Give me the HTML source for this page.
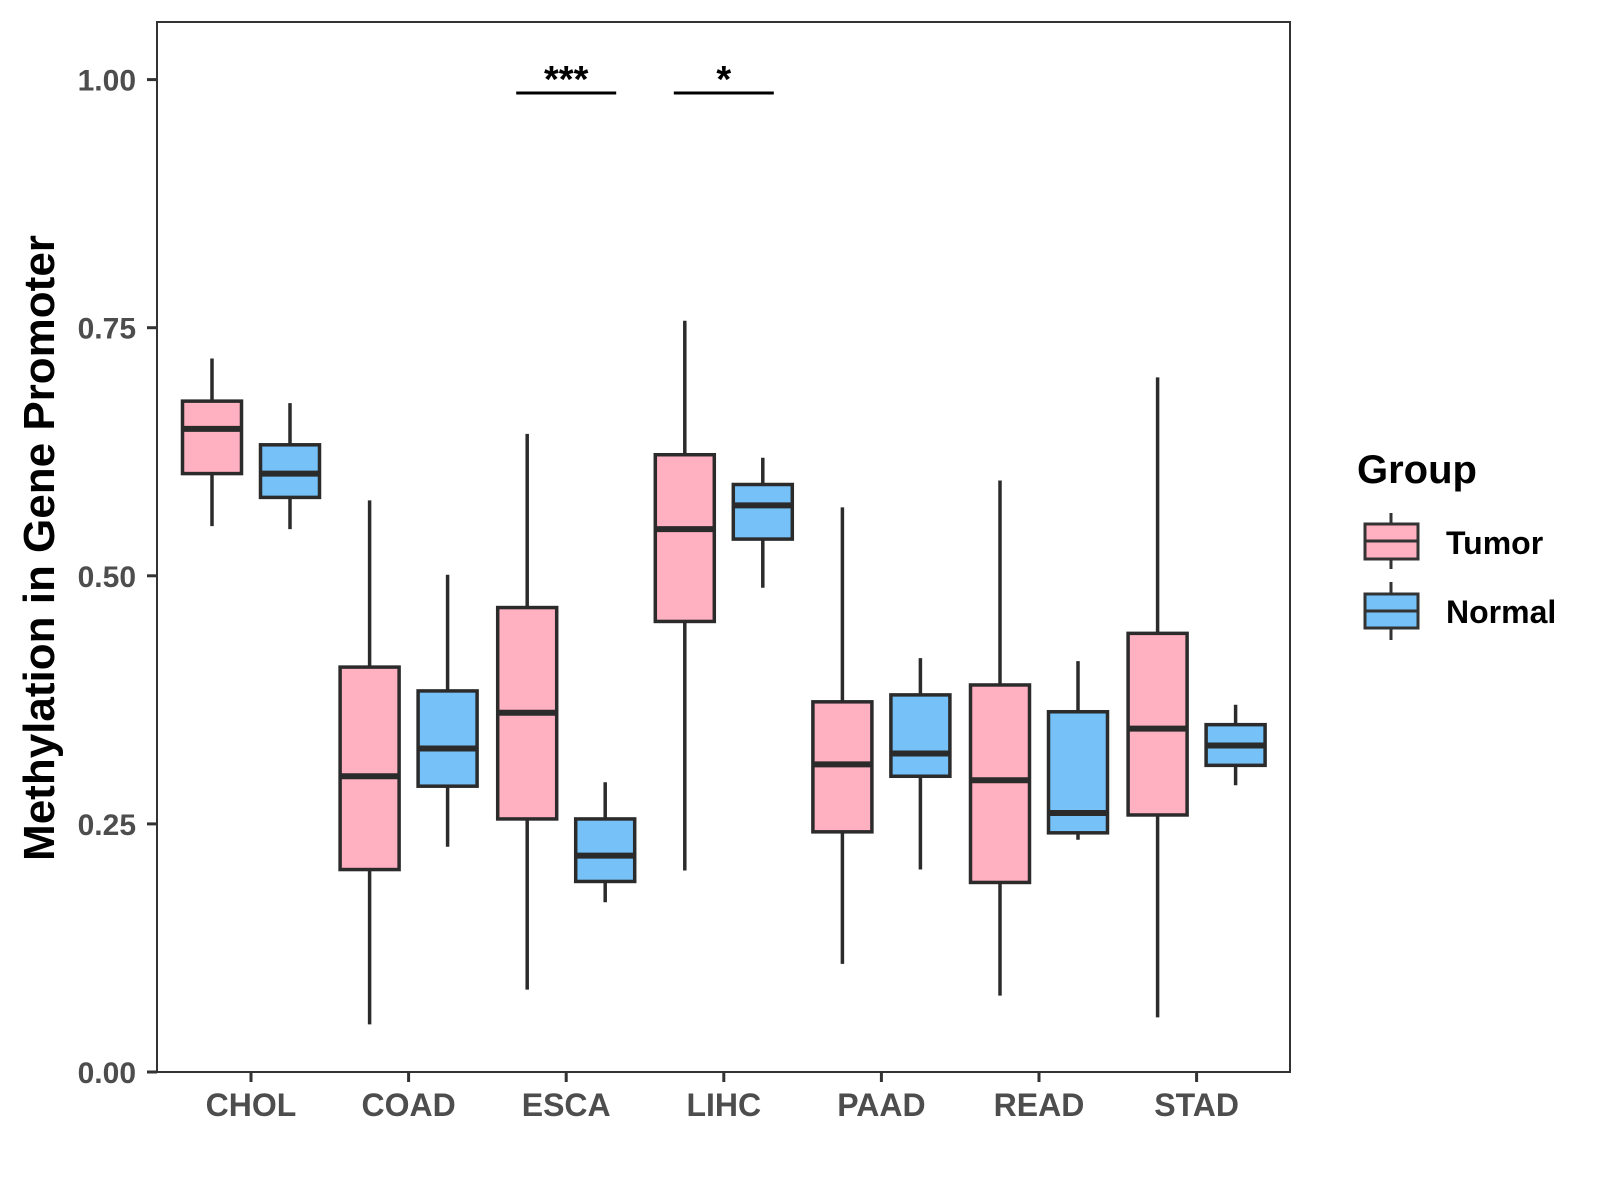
<!DOCTYPE html>
<html><head><meta charset="utf-8"><style>
html,body{margin:0;padding:0;background:#fff;}
svg{display:block;font-family:"Liberation Sans",Arial,sans-serif;}
</style></head><body>
<svg id="chart" width="1600" height="1200" viewBox="0 0 1600 1200" xmlns="http://www.w3.org/2000/svg">
<rect x="157" y="22" width="1133" height="1050" fill="#fff" stroke="#333" stroke-width="2"/>
<g id="marks"></g>
<text transform="translate(54,548) rotate(-90)" text-anchor="middle" font-size="44" font-weight="bold" fill="#000">Methylation in Gene Promoter</text>
<g>
<text x="1357" y="483" font-size="40" font-weight="bold" fill="#000">Group</text>
<g>
<line x1="1391" y1="513" x2="1391" y2="569" stroke="#333" stroke-width="3"/>
<rect x="1365" y="524" width="53" height="35" fill="#FFB0C1" stroke="#333" stroke-width="3"/>
<line x1="1365" y1="541" x2="1418" y2="541" stroke="#333" stroke-width="3"/>
<text x="1446" y="554" font-size="32" font-weight="bold" fill="#000">Tumor</text>
</g>
<g>
<line x1="1391" y1="582" x2="1391" y2="640" stroke="#333" stroke-width="3"/>
<rect x="1365" y="594" width="53" height="34" fill="#75C1F8" stroke="#333" stroke-width="3"/>
<line x1="1365" y1="611" x2="1418" y2="611" stroke="#333" stroke-width="3"/>
<text x="1446" y="623" font-size="32" font-weight="bold" fill="#000">Normal</text>
</g>
</g>
</svg>
<script>
const categories = ["CHOL","COAD","ESCA","LIHC","PAAD","READ","STAD"];
const tumorLow =   [0.550,0.048,0.083,0.203,0.109,0.077,0.055];
const tumorQ1 =    [0.603,0.204,0.255,0.454,0.242,0.191,0.259];
const tumorMed =   [0.648,0.298,0.362,0.547,0.310,0.294,0.346];
const tumorQ3 =    [0.676,0.408,0.468,0.622,0.373,0.390,0.442];
const tumorHigh =  [0.719,0.576,0.643,0.757,0.569,0.596,0.700];
const normalLow =  [0.547,0.227,0.171,0.488,0.204,0.234,0.289];
const normalQ1 =   [0.579,0.288,0.192,0.537,0.298,0.241,0.309];
const normalMed =  [0.603,0.326,0.218,0.571,0.321,0.261,0.329];
const normalQ3 =   [0.632,0.384,0.255,0.592,0.380,0.363,0.350];
const normalHigh = [0.674,0.501,0.292,0.619,0.417,0.414,0.370];
const yTicks = [0, 0.25, 0.5, 0.75, 1.0];
const yTickLabels = ["0.00","0.25","0.50","0.75","1.00"];
const sigCategories = ["ESCA","LIHC"];
const sigLabels = ["***","*"];

const NS="http://www.w3.org/2000/svg";
const g=document.getElementById('marks');
const y=v=>1072-(1072-79.6)*v;
const x=i=>251+i*157.6;
function mk(tag,attrs,parent){const e=document.createElementNS(NS,tag);for(const k in attrs)e.setAttribute(k,attrs[k]);(parent||g).appendChild(e);return e;}
yTicks.forEach((t,i)=>{
  const tk=mk('line',{x1:147,x2:157,y1:y(t),y2:y(t),stroke:'#333','stroke-width':3});
  
  
  const lb=mk('text',{x:136,y:y(t)+11,'text-anchor':'end','font-size':30,'font-weight':'bold',fill:'#4d4d4d'});
  lb.textContent=yTickLabels[i];
  
  
});
categories.forEach((c,i)=>{
  const tk=mk('line',{x1:x(i),x2:x(i),y1:1072,y2:1082,stroke:'#333','stroke-width':3});
  
  
  const lb=mk('text',{x:x(i),y:1116,'text-anchor':'middle','font-size':32,'font-weight':'bold',fill:'#4d4d4d'});
  lb.textContent=c;
  
  
});
function box(cx,lo,q1,md,q3,hi,fill,name){
  const grp=mk('g',{});
  
  
  mk('line',{x1:cx,x2:cx,y1:y(hi),y2:y(lo),stroke:'#2b2b2b','stroke-width':3.5},grp);
  mk('rect',{x:cx-29.5,y:y(q3),width:59,height:y(q1)-y(q3),fill:fill,stroke:'#2b2b2b','stroke-width':3.5},grp);
  mk('line',{x1:cx-29.5,x2:cx+29.5,y1:y(md),y2:y(md),stroke:'#2b2b2b','stroke-width':6},grp);
}
categories.forEach((c,i)=>{
  box(x(i)-39,tumorLow[i],tumorQ1[i],tumorMed[i],tumorQ3[i],tumorHigh[i],'#FFB0C1','box-tumor-'+c.toLowerCase());
  box(x(i)+39,normalLow[i],normalQ1[i],normalMed[i],normalQ3[i],normalHigh[i],'#75C1F8','box-normal-'+c.toLowerCase());
});
sigCategories.forEach((c,k)=>{
  const i=categories.indexOf(c);
  const ln=mk('line',{x1:x(i)-50,x2:x(i)+50,y1:93,y2:93,stroke:'#000','stroke-width':3});
  
  
  const t=mk('text',{x:x(i),y:92,'text-anchor':'middle','font-size':38,'font-weight':'bold',fill:'#000'});
  t.textContent=sigLabels[k];
  
  
});
</script>
</body></html>
